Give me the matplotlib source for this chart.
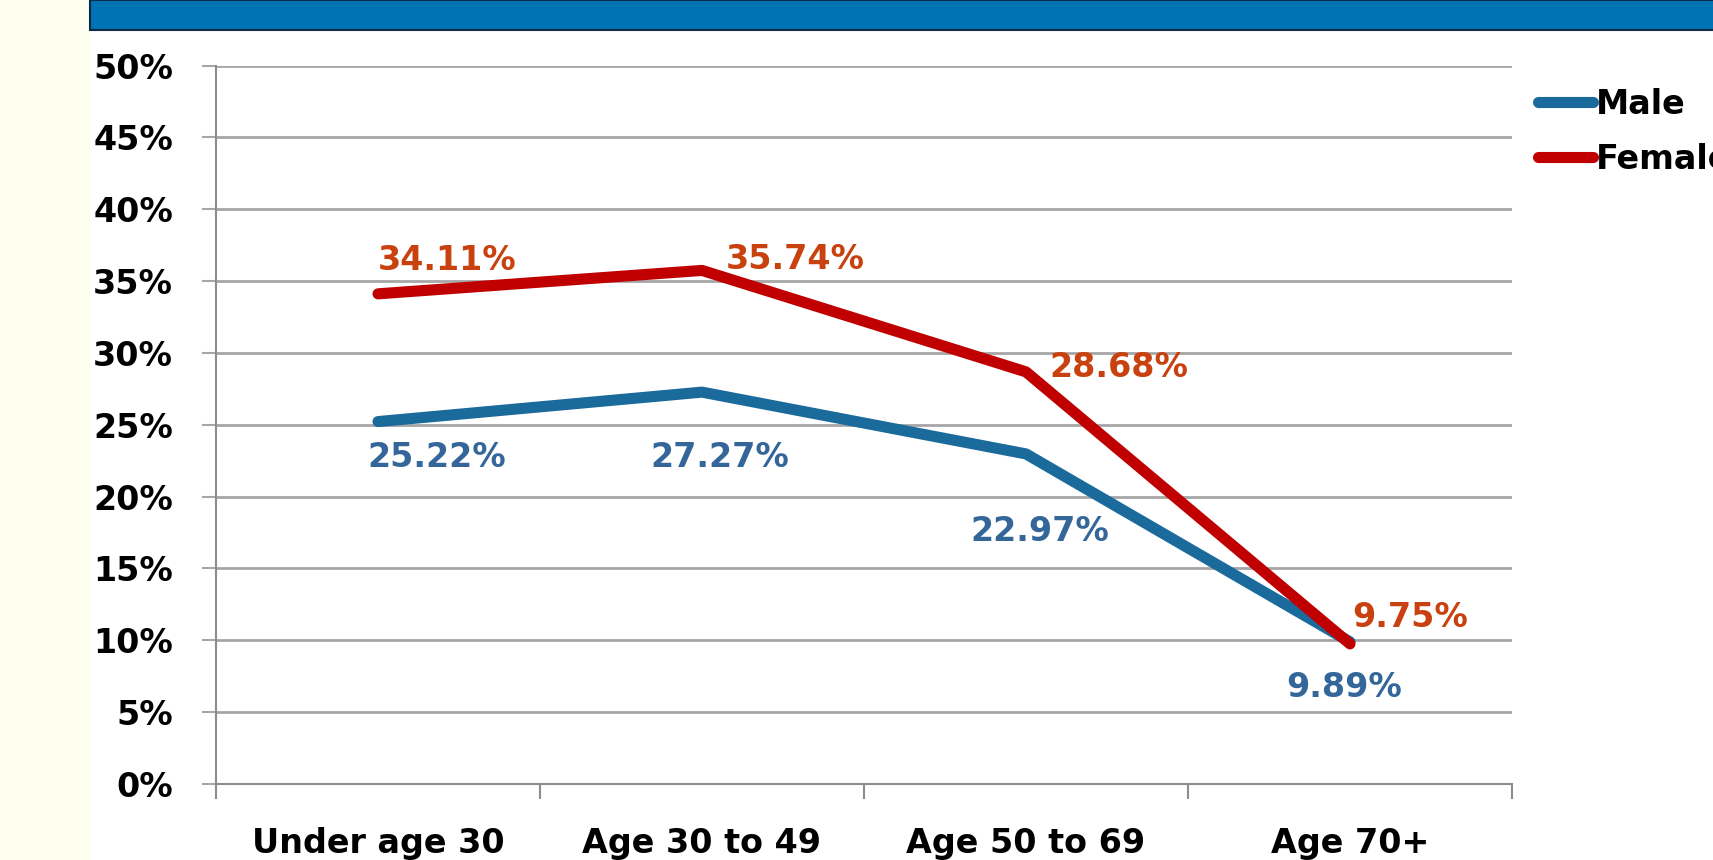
import matplotlib
matplotlib.use("Agg")
import matplotlib.pyplot as plt
from matplotlib.patches import Rectangle
from matplotlib.ticker import FixedLocator, FuncFormatter, NullFormatter

# data
categories = ["Under age 30", "Age 30 to 49", "Age 50 to 69", "Age 70+"]
male = [25.22, 27.27, 22.97, 9.89]
female = [34.11, 35.74, 28.68, 9.75]
y_ticks = [0, 5, 10, 15, 20, 25, 30, 35, 40, 45, 50]

# label offsets in points (style only)
male_off = [(42, -26), (13, -47), (10, -56), (-4, -33)]
female_off = [(50, 24), (67, 8), (67, 3), (43, 19)]

plt.rcParams['font.family'] = ['DejaVu Sans']

fig = plt.figure(figsize=(17.13, 8.6), dpi=100)
fig.patch.set_facecolor('white')

# yellow strip on the left and blue banner on top
fig.patches.append(Rectangle((0, 0), 90 / 1713, 1, transform=fig.transFigure,
                             facecolor='#fffff0', edgecolor='none', zorder=0))
fig.patches.append(Rectangle((90 / 1713, 1 - 30 / 860), 1, 30 / 860, transform=fig.transFigure,
                             facecolor='#0073b5', edgecolor='#0b2a45', lw=1.5, zorder=0))

ax = fig.add_axes([216 / 1713, 1 - 784 / 860, (1512 - 216) / 1713, (784 - 65.5) / 860])
x = [i + 0.5 for i in range(len(categories))]

ax.plot(x, male, color='#1b6a9c', lw=8, solid_capstyle='round', label='Male', zorder=3)
ax.plot(x, female, color='#c00000', lw=8, solid_capstyle='round', label='Female', zorder=4)

for xi, v, (dx, dy) in zip(x, male, male_off):
    ax.annotate(f"{v:.2f}%", (xi, v), xytext=(dx, dy), textcoords='offset points',
                ha='center', va='center', fontsize=24, fontweight='bold', color='#35669a')
for xi, v, (dx, dy) in zip(x, female, female_off):
    ax.annotate(f"{v:.2f}%", (xi, v), xytext=(dx, dy), textcoords='offset points',
                ha='center', va='center', fontsize=24, fontweight='bold', color='#c8410e')

ax.set_xlim(0, len(categories))
ax.set_ylim(0, 50)
ax.yaxis.set_major_locator(FixedLocator(y_ticks))
ax.yaxis.set_major_formatter(FuncFormatter(lambda v, p: f"{v:.0f}%"))
ax.grid(axis='y', color='#a6a6a6', lw=2)
ax.set_axisbelow(True)

ax.xaxis.set_major_locator(FixedLocator(range(len(categories) + 1)))
ax.xaxis.set_major_formatter(NullFormatter())
ax.xaxis.set_minor_locator(FixedLocator(x))
ax.set_xticklabels(categories, minor=True)

ax.tick_params(axis='y', length=10, width=1.5, color='#a6a6a6', pad=21,
               labelsize=24, direction='out')
ax.tick_params(axis='x', which='major', length=11, width=1.5, color='#8c8c8c', direction='out')
ax.tick_params(axis='x', which='minor', length=0, pad=31, labelsize=24)
for lab in ax.get_yticklabels() + ax.get_xticklabels(minor=True):
    lab.set_fontweight('bold')

for s in ['top', 'right']:
    ax.spines[s].set_visible(False)
for s in ['left', 'bottom']:
    ax.spines[s].set_color('#8c8c8c')
    ax.spines[s].set_linewidth(1.5)

# legend sits at the right edge; the reference shows "Female" running off the figure
leg = ax.legend(loc='upper left', bbox_to_anchor=(1538 / 1713, 1 - 88 / 860),
                bbox_transform=fig.transFigure, frameon=False,
                prop={'size': 24, 'weight': 'bold'},
                handlelength=1.65, handletextpad=0.1, labelspacing=0.66,
                borderpad=0, borderaxespad=0)

fig.savefig("out.png", dpi=100)
